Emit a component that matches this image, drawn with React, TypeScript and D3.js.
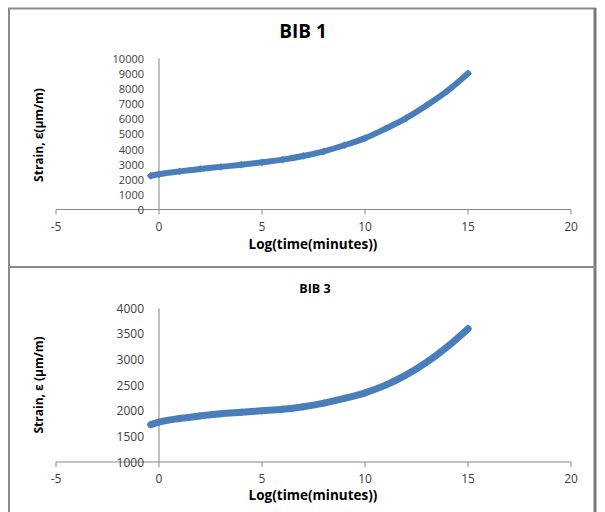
import React from "react";
import * as d3 from "d3";

const xTicks = [-5, 0, 5, 10, 15, 20];
const topYTicks = [0, 1000, 2000, 3000, 4000, 5000, 6000, 7000, 8000, 9000, 10000];
const botYTicks = [1000, 1500, 2000, 2500, 3000, 3500, 4000];

const bib1X = [-0.4, 0, 1, 2, 3, 4, 5, 6, 7, 8, 9, 10, 11, 12, 13, 14, 15];
const bib1Y = [2230, 2330, 2520, 2680, 2820, 2960, 3120, 3300, 3540, 3850, 4250, 4720, 5350, 6050, 6900, 7850, 9000];

const bib3X = [-0.4, 0, 1, 2, 3, 4, 5, 6, 7, 8, 9, 10, 11, 12, 13, 14, 15];
const bib3Y = [1730, 1780, 1850, 1900, 1940, 1970, 2000, 2030, 2080, 2150, 2240, 2350, 2500, 2700, 2950, 3250, 3600];

const COLOR = "#4A7EBB";
const AXIS = "#888888";
const TXT = "#404040";
const FONT = "'Open Sans', 'Liberation Sans', sans-serif";

type PanelProps = {
  title: string;
  titleSize: number;
  titleX: number;
  titleY: number;
  yTitle: string;
  yTitleCy: number;
  xs: number[];
  ys: number[];
  yTicks: number[];
  yTickSize: number;
  yDomain: [number, number];
  yRange: [number, number];
  xLabelY: number;
  xTitleY: number;
  strokeW: number;
};

function Panel(p: PanelProps) {
  const x = d3.scaleLinear().domain([-5, 20]).range([56, 571]);
  const y = d3.scaleLinear().domain(p.yDomain).range(p.yRange);
  const pts = p.xs.map((v, i) => [v, p.ys[i]] as [number, number]);
  const line = d3
    .line<[number, number]>()
    .x((d) => x(d[0]))
    .y((d) => y(d[1]))
    .curve(d3.curveMonotoneX);
  const sym = d3.symbol().type(d3.symbolSquare).size(30);
  const y0 = y(p.yDomain[0]);
  return (
    <g>
      <text x={p.titleX} y={p.titleY} textAnchor="middle" fontFamily={FONT} fontWeight="bold" fontSize={p.titleSize} fill="#000">
        {p.title}
      </text>
      <line x1={x(0)} x2={x(0)} y1={y(p.yDomain[1])} y2={y0} stroke={AXIS} strokeWidth={1} />
      <line x1={x(-5)} x2={x(20)} y1={y0} y2={y0} stroke={AXIS} strokeWidth={1} />
      {xTicks.map((t) => (
        <g key={"xt" + t}>
          <line x1={x(t)} x2={x(t)} y1={y0} y2={y0 + 5} stroke={AXIS} strokeWidth={1} />
          <text x={x(t)} y={p.xLabelY} textAnchor="middle" dominantBaseline="central" fontFamily={FONT} fontSize={12} fill={TXT}>
            {t}
          </text>
        </g>
      ))}
      {p.yTicks.map((t) => (
        <text key={"yt" + t} x={144} y={y(t)} textAnchor="end" dominantBaseline="central" fontFamily={FONT} fontSize={p.yTickSize} fill={TXT}>
          {t}
        </text>
      ))}
      <text
        transform={`translate(38,${p.yTitleCy}) rotate(-90)`}
        textAnchor="middle"
        dominantBaseline="central"
        fontFamily={FONT}
        fontWeight="bold"
        fontSize={12}
        fill="#000"
      >
        {p.yTitle}
      </text>
      <text x={313} y={p.xTitleY} textAnchor="middle" dominantBaseline="central" fontFamily={FONT} fontWeight="bold" fontSize={13.5} fill="#000">
        Log(time(minutes))
      </text>
      <path d={line(pts) || ""} fill="none" stroke={COLOR} strokeWidth={p.strokeW} strokeLinecap="round" />
      {pts.map((d, i) => (
        <path key={"m" + i} d={sym() || ""} transform={`translate(${x(d[0])},${y(d[1])}) rotate(45)`} fill={COLOR} />
      ))}
    </g>
  );
}

export default function App() {
  return (
    <svg width={605} height={512} style={{ position: "absolute", left: 0, top: 0, background: "#fff" }}>
      <rect x={0} y={0} width={605} height={512} fill="#fff" />
      <line x1={8} x2={596} y1={8.5} y2={8.5} stroke="#8a8a8a" strokeWidth={2} />
      <line x1={9} x2={9} y1={8} y2={512} stroke="#8a8a8a" strokeWidth={2} />
      <line x1={595} x2={595} y1={8} y2={512} stroke="#7a7a7a" strokeWidth={3} />
      <line x1={8} x2={596} y1={267} y2={267} stroke="#8a8a8a" strokeWidth={2} />
      <Panel
        title="BIB 1"
        titleSize={19}
        titleX={303}
        titleY={38}
        yTitle="Strain, ε(μm/m)"
        yTitleCy={135}
        xs={bib1X}
        ys={bib1Y}
        yTicks={topYTicks}
        yTickSize={11}
        yDomain={[0, 10000]}
        yRange={[209.5, 58.3]}
        xLabelY={226}
        xTitleY={244}
        strokeW={6}
      />
      <Panel
        title="BIB 3"
        titleSize={12.5}
        titleX={315}
        titleY={293}
        yTitle="Strain, ε (μm/m)"
        yTitleCy={385}
        xs={bib3X}
        ys={bib3Y}
        yTicks={botYTicks}
        yTickSize={12}
        yDomain={[1000, 4000]}
        yRange={[462, 308.3]}
        xLabelY={478}
        xTitleY={495}
        strokeW={7}
      />
    </svg>
  );
}
